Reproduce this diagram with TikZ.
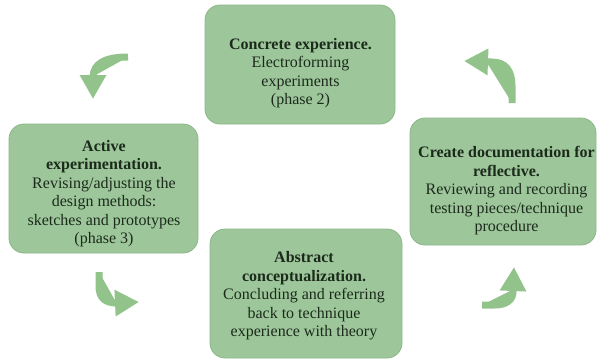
\documentclass[tikz,border=0pt]{standalone}
\usepackage{fontspec}
\setmainfont{Liberation Serif}
\usetikzlibrary{arrows.meta}

\definecolor{boxgreen}{HTML}{9DC79A}
\definecolor{edgegreen}{HTML}{8CB889}
\definecolor{arrowgreen}{HTML}{92C38B}
\definecolor{inkgreen}{HTML}{1C2A1C}

\tikzset{
	stagebox/.style={fill=boxgreen, draw=edgegreen, line width=0.8pt, rounded corners=15pt, inner sep=0pt},
	stagetext/.style={align=center, text=inkgreen, font=\fontsize{16}{18.5}\selectfont, inner sep=0pt},
	cyclearrow/.style={draw=arrowgreen, line width=7pt, -{Triangle[width=25pt,length=24pt]}, fill=arrowgreen}
}

\begin{document}
\begin{tikzpicture}[x=1pt,y=-1pt]
	
	\useasboundingbox (0,0) rectangle (597,362);
	
	\node[stagebox, minimum width=190pt, minimum height=119pt] (concrete) at (300,64.5) {};
	\node[stagebox, minimum width=189pt, minimum height=129pt] (active) at (103.5,188.5) {};
	\node[stagebox, minimum width=186pt, minimum height=127pt] (reflect) at (503,181.5) {};
	\node[stagebox, minimum width=192pt, minimum height=129pt] (abstract) at (306,293.5) {};
	
	\node[stagetext] (concretetext) at (300.5,73) {\textbf{Concrete experience.}\\Electroforming\\experiments\\(phase 2)};
	\node[stagetext] (activetext) at (104,193.5) {\textbf{Active}\\\textbf{experimentation.}\\Revising/adjusting the\\design methods:\\sketches and prototypes\\(phase 3)};
	\node[stagetext] (reflecttext) at (506.5,191) {\textbf{Create documentation for}\\\textbf{reflective.}\\Reviewing and recording\\testing pieces/technique\\procedure};
	\node[stagetext] (abstracttext) at (304,296) {\textbf{Abstract}\\\textbf{conceptualization.}\\Concluding and referring\\back to technique\\experience with theory};
	
	\coordinate (tl) at (128,57);
	\coordinate (tr) at (512,103);
	\coordinate (bl) at (99,272);
	\coordinate (br) at (482,305);
	\draw[cyclearrow] (tl) .. controls (104,57) and (94,64) .. (93,76) -- (93,99);
	\draw[cyclearrow] (tr) -- (512,86) .. controls (512,70) and (505,62) .. (492,62) -- (464,61);
	\draw[cyclearrow] (bl) -- (99,286) .. controls (99,298) and (105,303) .. (117,303) -- (139,302);
	\draw[cyclearrow] (br) -- (495,305) .. controls (506,305) and (513,300) .. (513,292) -- (514,267);
	
\end{tikzpicture}
\end{document}
